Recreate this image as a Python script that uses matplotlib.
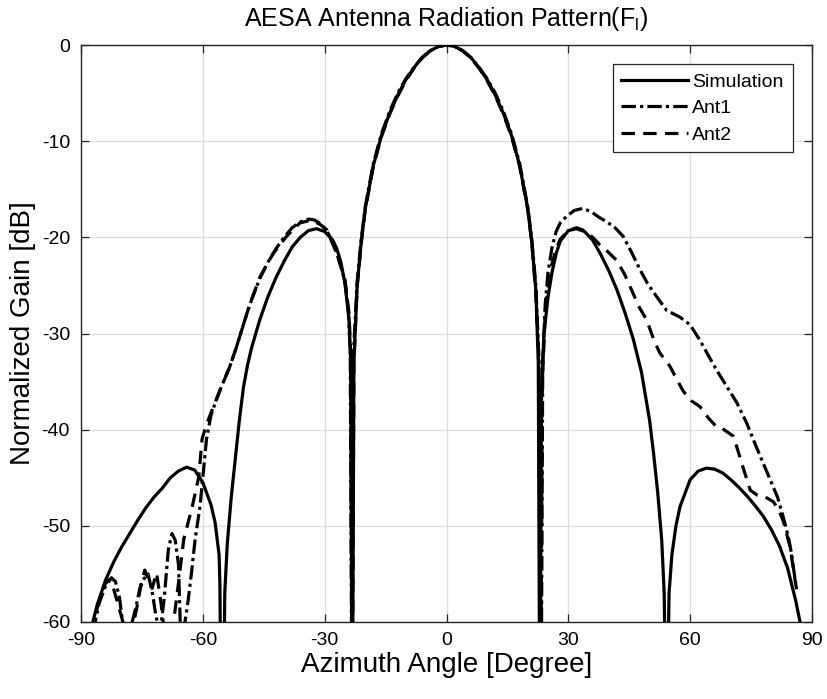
import matplotlib
matplotlib.use("Agg")
import matplotlib.pyplot as plt

plt.rcParams.update({
    "font.family": ["Liberation Sans", "DejaVu Sans"],
    "mathtext.fontset": "custom",
    "mathtext.rm": "Liberation Sans",
    "mathtext.it": "Liberation Sans",
    "axes.unicode_minus": False,
})

# Simulated array pattern (angle in degree, gain in dB)
sim_ang = [-88.0, -86.0, -84.0, -82.0, -80.0, -78.0, -76.0, -74.0, -72.0, -70.0,
           -68.0, -66.0, -64.0, -62.0, -60.0, -58.0, -57.0, -56.0, -55.8, -55.4,
           -55.0, -54.6, -54.0, -53.0, -52.0, -51.0, -50.0, -49.0, -48.0, -46.0,
           -44.0, -42.0, -40.0, -38.0, -36.0, -34.0, -32.0, -30.0, -28.0, -27.0,
           -26.0, -25.0, -24.0, -23.6, -23.2, -22.8, -22.0, -21.0, -20.0, -18.0,
           -16.0, -14.0, -12.0, -10.0, -8.0, -6.0, -4.0, -2.0, 0.0,
           2.0, 4.0, 6.0, 8.0, 10.0, 12.0, 14.0, 16.0, 18.0, 20.0,
           21.0, 22.0, 22.6, 23.0, 23.4, 24.0, 25.0, 26.0, 27.0, 28.0,
           30.0, 32.0, 34.0, 36.0, 38.0, 40.0, 42.0, 44.0, 46.0, 48.0,
           50.0, 51.0, 52.0, 53.0, 53.6, 54.2, 54.8, 55.5, 56.5, 57.5,
           60.0, 62.0, 64.0, 66.0, 68.0, 70.0, 72.0, 74.0, 76.0, 78.0,
           80.0, 82.0, 84.0, 86.0, 88.0]
sim_db = [-61.5, -58.2, -55.7, -53.8, -52.2, -50.8, -49.4, -48.1, -47.0, -46.1,
          -45.0, -44.3, -43.9, -44.2, -45.5, -47.8, -49.6, -53.0, -56.0, -75.0,
          -75.0, -57.0, -52.0, -47.0, -43.0, -39.0, -35.6, -33.3, -31.5, -28.6,
          -26.2, -24.2, -22.5, -21.0, -20.0, -19.3, -19.1, -19.4, -20.3, -21.2,
          -22.6, -24.8, -28.5, -33.0, -75.0, -33.0, -25.0, -20.5, -17.0, -12.5,
          -9.4, -7.1, -5.2, -3.6, -2.35, -1.3, -0.6, -0.15, 0.0,
          -0.15, -0.6, -1.3, -2.35, -3.6, -5.2, -7.1, -9.4, -12.5, -17.0,
          -20.5, -25.5, -33.0, -75.0, -36.0, -30.0, -26.2, -23.6, -21.7, -20.4,
          -19.3, -19.1, -19.4, -20.3, -21.8, -23.5, -25.5, -27.9, -30.6, -34.0,
          -39.0, -42.5, -46.5, -51.5, -57.0, -75.0, -57.0, -53.0, -50.0, -48.0,
          -45.2, -44.3, -44.0, -44.1, -44.5, -45.2, -46.0, -46.9, -47.9, -49.0,
          -50.4, -52.1, -54.4, -57.8, -62.0]

# Measured antenna 1
ant1_ang = [-87.0, -85.5, -84.0, -82.5, -81.5, -80.5, -79.5, -78.0, -76.5, -75.5,
            -74.5, -73.5, -72.5, -71.5, -70.5, -69.5, -68.5, -67.6, -66.8, -66.0,
            -65.5, -64.4, -63.6, -62.8, -61.9, -60.7, -59.9, -59.1, -58.0, -57.0,
            -55.5, -53.5, -52.0, -51.0, -49.5, -48.0, -46.0, -44.0, -42.0, -40.0,
            -38.0, -36.0, -34.0, -32.5, -31.0, -29.5, -28.0, -27.0, -26.0, -25.0,
            -24.2, -23.7, -23.3, -22.9, -22.0, -21.0, -20.0, -18.0, -16.0, -14.0,
            -12.0, -10.0, -8.0, -6.0, -4.0, -2.0, 0.0, 2.0, 4.0, 6.0,
            8.0, 10.0, 12.0, 14.0, 16.0, 18.0, 20.0, 21.0, 22.0, 22.8,
            23.3, 23.7, 24.3, 25.0, 26.0, 27.0, 28.0, 29.6, 31.5, 33.5,
            35.5, 37.5, 39.5, 41.5, 43.5, 45.5, 47.7, 49.5, 51.8, 54.2,
            57.5, 60.0, 62.4, 64.5, 66.5, 69.0, 71.5, 73.9, 76.0, 78.0,
            80.0, 81.5, 83.0, 84.2, 85.0, 85.5, 86.0]
ant1_db = [-61.0, -58.0, -56.3, -55.4, -55.8, -57.5, -61.0, -61.0, -58.5, -56.5,
           -55.5, -55.0, -56.8, -59.5, -61.0, -57.5, -52.5, -50.8, -51.5, -54.0,
           -61.0, -60.0, -57.7, -54.9, -51.4, -48.0, -44.5, -41.0, -38.5, -37.3,
           -35.6, -33.6, -31.8, -30.4, -28.4, -26.5, -24.3, -22.6, -21.2, -20.0,
           -19.0, -18.4, -18.1, -18.2, -18.6, -19.3, -20.5, -21.7, -23.0, -24.6,
           -27.5, -32.0, -70.0, -32.0, -24.6, -20.2, -16.8, -12.3, -9.2, -6.9,
           -5.0, -3.5, -2.3, -1.3, -0.6, -0.15, 0.0, -0.15, -0.6, -1.3,
           -2.3, -3.5, -5.0, -6.9, -9.2, -12.3, -16.8, -20.2, -25.0, -33.0,
           -70.0, -33.0, -27.0, -23.6, -21.0, -19.4, -18.5, -17.8, -17.2, -17.0,
           -17.3, -17.9, -18.4, -19.0, -19.9, -21.5, -23.4, -24.8, -26.2, -27.6,
           -28.3, -29.1, -30.7, -32.3, -33.8, -35.5, -37.2, -39.3, -41.5, -43.5,
           -45.5, -47.0, -49.2, -51.2, -53.0, -54.6, -56.0]

# Measured antenna 2
ant2_ang = [-87.0, -86.0, -85.0, -84.0, -83.0, -82.0, -81.0, -80.0, -79.0, -77.5,
            -76.0, -75.2, -74.3, -73.5, -72.5, -71.4, -70.3, -69.5, -68.3, -67.2,
            -65.9, -64.7, -62.6, -61.0, -60.2, -59.5, -58.5, -57.4, -55.4, -53.3,
            -50.9, -48.4, -45.9, -42.7, -39.4, -36.1, -33.2, -31.0, -29.5, -27.0,
            -25.0, -24.0, -23.6, -23.2, -22.8, -22.0, -21.0, -20.0, -18.0, -16.0,
            -14.0, -12.0, -10.0, -8.0, -6.0, -4.0, -2.0, 0.0, 2.0, 4.0,
            6.0, 8.0, 10.0, 12.0, 14.0, 16.0, 18.0, 20.0, 21.0, 22.0,
            22.7, 23.2, 23.6, 24.3, 25.0, 26.0, 27.0, 28.0, 30.0, 32.0,
            34.0, 36.0, 37.8, 39.5, 41.9, 43.8, 45.6, 47.5, 49.3, 51.0,
            52.5, 55.0, 56.5, 58.3, 60.3, 62.4, 64.5, 66.5, 68.0, 70.7,
            72.7, 74.8, 76.5, 78.5, 80.5, 82.0, 83.0, 84.6, 85.8, 86.3]
ant2_db = [-61.0, -58.5, -57.0, -56.0, -55.6, -56.5, -58.0, -59.5, -61.0, -61.0,
           -58.0, -56.0, -54.6, -55.5, -56.5, -54.9, -58.0, -61.0, -61.5, -60.0,
           -55.6, -51.4, -48.0, -44.9, -41.0, -40.0, -38.8, -37.6, -35.5, -33.4,
           -30.3, -26.9, -24.1, -21.7, -19.9, -18.5, -18.2, -18.7, -19.2, -21.7,
           -24.4, -27.9, -32.0, -70.0, -33.0, -25.2, -20.6, -17.1, -12.6, -9.5,
           -7.2, -5.3, -3.7, -2.4, -1.35, -0.6, -0.15, 0.0, -0.15, -0.6,
           -1.35, -2.4, -3.7, -5.3, -7.2, -9.5, -12.6, -17.1, -20.6, -25.8,
           -33.0, -70.0, -35.0, -28.0, -25.0, -22.7, -21.2, -20.2, -19.3, -19.0,
           -19.3, -20.0, -20.8, -21.4, -22.4, -23.8, -25.5, -27.3, -28.6, -30.6,
           -32.0, -33.4, -34.6, -36.0, -37.0, -37.6, -38.8, -39.7, -39.9, -40.7,
           -43.5, -46.3, -46.8, -47.0, -47.5, -48.5, -49.6, -52.2, -55.6, -56.8]

x_ticks = [-90, -60, -30, 0, 30, 60, 90]
y_ticks = [-60, -50, -40, -30, -20, -10, 0]

fig = plt.figure(figsize=(8.27, 6.99), dpi=100)
ax = fig.add_axes([81 / 827, 1 - 622 / 699, (812 - 81) / 827, (622 - 45) / 699])

lw = 2.3
ax.plot(sim_ang, sim_db, color='black', lw=lw, ls='-', label='Simulation', zorder=3)
ax.plot(ant1_ang, ant1_db, color='black', lw=lw, ls=(0, (4.5, 1.3, 1.0, 1.3)),
        label='Ant1', zorder=4)
ax.plot(ant2_ang, ant2_db, color='black', lw=lw, ls=(0, (4.2, 2.6)),
        label='Ant2', zorder=4)

ax.set_xlim(-90, 90)
ax.set_ylim(-60, 0)
ax.set_xticks(x_ticks)
ax.set_yticks(y_ticks)
ax.grid(True, color='#dcdcdc', lw=0.9, zorder=0)
ax.set_axisbelow(True)

for sp in ax.spines.values():
    sp.set_color('#262626')
    sp.set_linewidth(1.0)
ax.tick_params(direction='in', length=6, width=0.9, color='#262626',
               top=True, right=True, labelsize=14, labelcolor='black')
ax.tick_params(axis='x', pad=7)
ax.tick_params(axis='y', pad=8)

ax.set_title(r'AESA Antenna Radiation Pattern(F$_{\mathrm{l}}$)', fontsize=18, pad=14)
ax.set_xlabel('Azimuth Angle [Degree]', fontsize=20, labelpad=2)
ax.set_ylabel('Normalized Gain [dB]', fontsize=20, labelpad=4)

leg = ax.legend(loc='upper right', fontsize=14, handlelength=3.4, handletextpad=0.25,
                labelspacing=0.45, borderaxespad=1.0, borderpad=0.45,
                fancybox=False, framealpha=1.0, edgecolor='#262626')
leg.get_frame().set_linewidth(0.9)

fig.savefig('out.png', dpi=100)
